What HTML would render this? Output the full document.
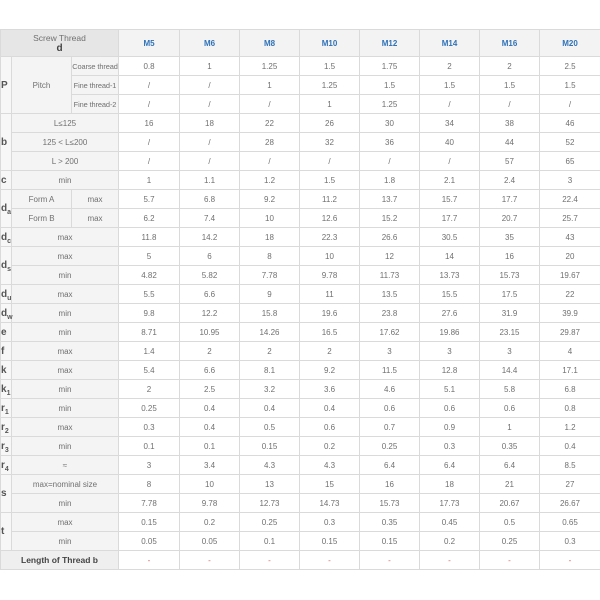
<!DOCTYPE html>
<html><head><meta charset="utf-8">
<style>
html,body{margin:0;padding:0;background:#fff;width:600px;height:600px;overflow:hidden}
table{position:absolute;left:0;top:29px;border-collapse:collapse;table-layout:fixed;width:600px;font-family:"Liberation Sans",sans-serif;font-size:8px;color:#707070}
td,th{border:1px solid #dadada;padding:0;text-align:center;vertical-align:middle;white-space:nowrap;font-weight:normal}
tr{height:19px}
tr.h{height:27px}
th{background:#f3f3f3;color:#2f72b8;font-weight:bold}
th.sc{background:#e6e6e6;color:#707070;font-weight:normal;line-height:10px;font-size:8.5px}
th.sc b{color:#444;font-size:10px}
td.g{background:#f4f4f4}
td.sm{font-size:7.4px;letter-spacing:-0.1px}
td.L{background:#f7f7f7;color:#555;font-weight:bold;font-size:10px;text-align:left;padding-left:0;overflow:visible;position:relative}
td.L sub{font-size:7px;vertical-align:-3px;line-height:0}
td.lt{background:#efefef;color:#444;font-weight:bold;font-size:8.5px}
td.r{color:#d06060}
</style></head><body>
<table>
<colgroup><col style="width:11px"><col style="width:60px"><col style="width:47px"><col style="width:61px"><col style="width:60px"><col style="width:60px"><col style="width:60px"><col style="width:60px"><col style="width:60px"><col style="width:60px"><col style="width:61px"></colgroup>
<tr class="h"><th colspan="3" class="sc">Screw Thread<br><b>d</b></th><th>M5</th><th>M6</th><th>M8</th><th>M10</th><th>M12</th><th>M14</th><th>M16</th><th>M20</th></tr>
<tr><td rowspan="3" class="L">P</td><td rowspan="3" class="g">Pitch</td><td class="g sm">Coarse thread</td><td>0.8</td><td>1</td><td>1.25</td><td>1.5</td><td>1.75</td><td>2</td><td>2</td><td>2.5</td></tr>
<tr><td class="g sm">Fine thread-1</td><td>/</td><td>/</td><td>1</td><td>1.25</td><td>1.5</td><td>1.5</td><td>1.5</td><td>1.5</td></tr>
<tr><td class="g sm">Fine thread-2</td><td>/</td><td>/</td><td>/</td><td>1</td><td>1.25</td><td>/</td><td>/</td><td>/</td></tr>
<tr><td rowspan="3" class="L">b</td><td colspan="2" class="g">L≤125</td><td>16</td><td>18</td><td>22</td><td>26</td><td>30</td><td>34</td><td>38</td><td>46</td></tr>
<tr><td colspan="2" class="g">125 &lt; L≤200</td><td>/</td><td>/</td><td>28</td><td>32</td><td>36</td><td>40</td><td>44</td><td>52</td></tr>
<tr><td colspan="2" class="g">L &gt; 200</td><td>/</td><td>/</td><td>/</td><td>/</td><td>/</td><td>/</td><td>57</td><td>65</td></tr>
<tr><td class="L">c</td><td colspan="2" class="g">min</td><td>1</td><td>1.1</td><td>1.2</td><td>1.5</td><td>1.8</td><td>2.1</td><td>2.4</td><td>3</td></tr>
<tr><td rowspan="2" class="L">d<sub>a</sub></td><td class="g">Form A</td><td class="g">max</td><td>5.7</td><td>6.8</td><td>9.2</td><td>11.2</td><td>13.7</td><td>15.7</td><td>17.7</td><td>22.4</td></tr>
<tr><td class="g">Form B</td><td class="g">max</td><td>6.2</td><td>7.4</td><td>10</td><td>12.6</td><td>15.2</td><td>17.7</td><td>20.7</td><td>25.7</td></tr>
<tr><td class="L">d<sub>c</sub></td><td colspan="2" class="g">max</td><td>11.8</td><td>14.2</td><td>18</td><td>22.3</td><td>26.6</td><td>30.5</td><td>35</td><td>43</td></tr>
<tr><td rowspan="2" class="L">d<sub>s</sub></td><td colspan="2" class="g">max</td><td>5</td><td>6</td><td>8</td><td>10</td><td>12</td><td>14</td><td>16</td><td>20</td></tr>
<tr><td colspan="2" class="g">min</td><td>4.82</td><td>5.82</td><td>7.78</td><td>9.78</td><td>11.73</td><td>13.73</td><td>15.73</td><td>19.67</td></tr>
<tr><td class="L">d<sub>u</sub></td><td colspan="2" class="g">max</td><td>5.5</td><td>6.6</td><td>9</td><td>11</td><td>13.5</td><td>15.5</td><td>17.5</td><td>22</td></tr>
<tr><td class="L">d<sub>w</sub></td><td colspan="2" class="g">min</td><td>9.8</td><td>12.2</td><td>15.8</td><td>19.6</td><td>23.8</td><td>27.6</td><td>31.9</td><td>39.9</td></tr>
<tr><td class="L">e</td><td colspan="2" class="g">min</td><td>8.71</td><td>10.95</td><td>14.26</td><td>16.5</td><td>17.62</td><td>19.86</td><td>23.15</td><td>29.87</td></tr>
<tr><td class="L">f</td><td colspan="2" class="g">max</td><td>1.4</td><td>2</td><td>2</td><td>2</td><td>3</td><td>3</td><td>3</td><td>4</td></tr>
<tr><td class="L">k</td><td colspan="2" class="g">max</td><td>5.4</td><td>6.6</td><td>8.1</td><td>9.2</td><td>11.5</td><td>12.8</td><td>14.4</td><td>17.1</td></tr>
<tr><td class="L">k<sub>1</sub></td><td colspan="2" class="g">min</td><td>2</td><td>2.5</td><td>3.2</td><td>3.6</td><td>4.6</td><td>5.1</td><td>5.8</td><td>6.8</td></tr>
<tr><td class="L">r<sub>1</sub></td><td colspan="2" class="g">min</td><td>0.25</td><td>0.4</td><td>0.4</td><td>0.4</td><td>0.6</td><td>0.6</td><td>0.6</td><td>0.8</td></tr>
<tr><td class="L">r<sub>2</sub></td><td colspan="2" class="g">max</td><td>0.3</td><td>0.4</td><td>0.5</td><td>0.6</td><td>0.7</td><td>0.9</td><td>1</td><td>1.2</td></tr>
<tr><td class="L">r<sub>3</sub></td><td colspan="2" class="g">min</td><td>0.1</td><td>0.1</td><td>0.15</td><td>0.2</td><td>0.25</td><td>0.3</td><td>0.35</td><td>0.4</td></tr>
<tr><td class="L">r<sub>4</sub></td><td colspan="2" class="g">≈</td><td>3</td><td>3.4</td><td>4.3</td><td>4.3</td><td>6.4</td><td>6.4</td><td>6.4</td><td>8.5</td></tr>
<tr><td rowspan="2" class="L">s</td><td colspan="2" class="g">max=nominal size</td><td>8</td><td>10</td><td>13</td><td>15</td><td>16</td><td>18</td><td>21</td><td>27</td></tr>
<tr><td colspan="2" class="g">min</td><td>7.78</td><td>9.78</td><td>12.73</td><td>14.73</td><td>15.73</td><td>17.73</td><td>20.67</td><td>26.67</td></tr>
<tr><td rowspan="2" class="L">t</td><td colspan="2" class="g">max</td><td>0.15</td><td>0.2</td><td>0.25</td><td>0.3</td><td>0.35</td><td>0.45</td><td>0.5</td><td>0.65</td></tr>
<tr><td colspan="2" class="g">min</td><td>0.05</td><td>0.05</td><td>0.1</td><td>0.15</td><td>0.15</td><td>0.2</td><td>0.25</td><td>0.3</td></tr>
<tr><td colspan="3" class="lt">Length of Thread b</td><td class="r">-</td><td class="r">-</td><td class="r">-</td><td class="r">-</td><td class="r">-</td><td class="r">-</td><td class="r">-</td><td class="r">-</td></tr>
</table>
</body></html>
